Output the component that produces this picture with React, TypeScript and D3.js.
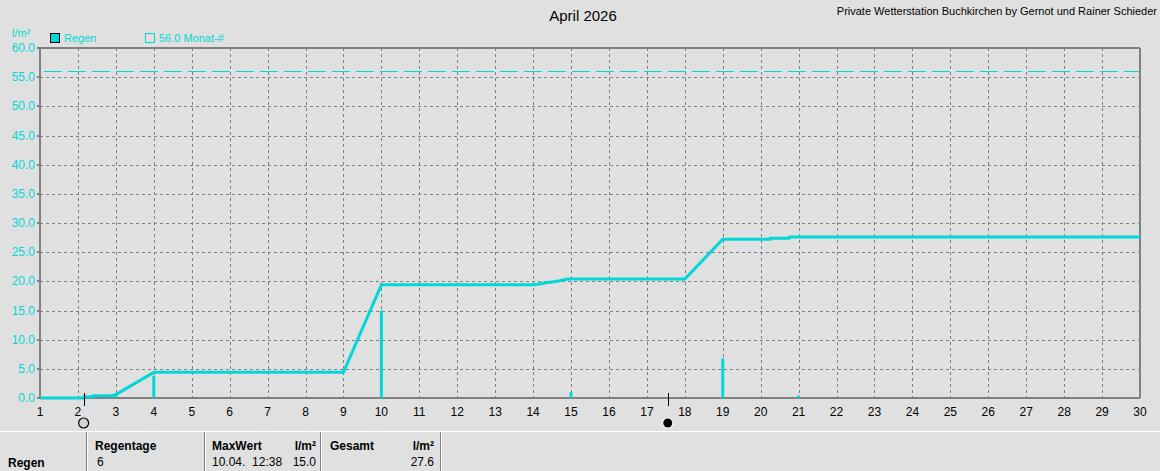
import React from "react";
import * as d3 from "d3";

const W = 1160;
const H = 471;

const title = "April 2026";
const header = "Private Wetterstation Buchkirchen by Gernot und Rainer Schieder";
const yUnit = "l/m²";
const legendRain = "Regen";
const legendAvg = "56.0 Monat-#";
const monthAvg = 56.0;

const days = d3.range(1, 31);
const yTicks = d3.range(0, 61, 5);

// daily rain bars
const barDays = [3, 4, 10, 15, 19, 21];
const barValues = [0.6, 3.8, 15.0, 1.0, 6.8, 0.4];

// cumulative rain line (day, mm)
const cumDays = [1, 2.15, 2.16, 2.4, 2.41, 2.9, 3.0, 4.0, 9.0, 10.0, 14.05, 14.3, 14.5, 14.7, 14.9, 18.0, 19.0, 20.25, 20.26, 20.75, 20.76, 30];
const cumValues = [0, 0, 0.2, 0.2, 0.4, 0.4, 0.6, 4.4, 4.4, 19.4, 19.4, 19.7, 19.9, 20.1, 20.4, 20.4, 27.2, 27.2, 27.4, 27.4, 27.6, 27.6];

// moon phases
const fullMoonDay = 2.15;
const newMoonDay = 17.55;

// table
const tableRowLabel = "Regen";
const tableHeaders = ["Regentage", "MaxWert", "Gesamt"];
const rainDaysCount = "6";
const maxWertDate = "10.04.  12:38";
const maxWertValue = "15.0";
const gesamtValue = "27.6";

const CYAN = "#00d7d7";
const GRID = "#808080";
const FONT = "'Liberation Sans', Arial, sans-serif";

export default function App() {
  const x = d3.scaleLinear().domain([1, 30]).range([40, 1140]);
  const y = d3.scaleLinear().domain([0, 60]).range([398, 48]);
  const line = d3
    .line<number>()
    .x((_, i) => x(cumDays[i]))
    .y((d) => y(d));
  const colX = [0, 87, 205, 321, 441];
  const cr = (v: number) => Math.round(v) + 0.5;

  return (
    <svg
      width={W}
      height={H}
      style={{ position: "absolute", left: 0, top: 0, background: "#e0e0e0", fontFamily: FONT }}
    >
      <rect x={0} y={0} width={W} height={H} fill="#e0e0e0" />
      {/* header */}
      <text x={583} y={21} textAnchor="middle" fontSize={15} fill="#000">{title}</text>
      <text x={1157} y={15} textAnchor="end" fontSize={11} fill="#000">{header}</text>

      {/* y unit & legend */}
      <text x={12} y={37} fontSize={11} fill={CYAN}>{yUnit}</text>
      <rect x={50.5} y={33.5} width={9} height={9} fill={CYAN} stroke="#000" strokeWidth={1} />
      <text x={64} y={42} fontSize={11} fill={CYAN}>{legendRain}</text>
      <rect x={145.5} y={33.5} width={9} height={9} fill="none" stroke={CYAN} strokeWidth={1} />
      <text x={159} y={42} fontSize={11} fill={CYAN}>{legendAvg}</text>

      {/* grid */}
      {yTicks.filter((t) => t > 0 && t < 60).map((t) => (
        <line key={"gy" + t} x1={x(1)} x2={x(30)} y1={cr(y(t))} y2={cr(y(t))} stroke={GRID} strokeDasharray="3,3" shapeRendering="crispEdges" />
      ))}
      {days.filter((d) => d > 1 && d < 30).map((d) => (
        <line key={"gx" + d} x1={cr(x(d))} x2={cr(x(d))} y1={y(60)} y2={y(0)} stroke={GRID} strokeDasharray="3,3" shapeRendering="crispEdges" />
      ))}

      {/* monthly average */}
      <line x1={x(1)} x2={x(30)} y1={cr(y(monthAvg))} y2={cr(y(monthAvg))} stroke={CYAN} strokeWidth={1} strokeDasharray="18,6" strokeDashoffset={-4} shapeRendering="crispEdges" />

      {/* frame */}
      <line x1={x(1)} x2={x(30)} y1={y(60)} y2={y(60)} stroke={GRID} strokeWidth={2} />
      <line x1={x(30)} x2={x(30)} y1={y(60)} y2={y(0)} stroke={GRID} strokeWidth={2} />
      <line x1={x(1)} x2={x(1)} y1={y(60)} y2={y(0) + 1} stroke={GRID} strokeWidth={2} />
      <line x1={x(1)} x2={x(30)} y1={y(0)} y2={y(0)} stroke={GRID} strokeWidth={2} />

      {/* y ticks */}
      {yTicks.map((t) => (
        <g key={"yt" + t}>
          <line x1={x(1) - 3} x2={x(1)} y1={Math.round(y(t))} y2={Math.round(y(t))} stroke={GRID} strokeWidth={2} />
          <text x={35} y={y(t) + 4} textAnchor="end" fontSize={12} fill={CYAN}>{t.toFixed(1)}</text>
        </g>
      ))}
      {/* x ticks */}
      {days.map((d) => (
        <text key={"xt" + d} x={x(d)} y={416} textAnchor="middle" fontSize={12} fill="#000">{d}</text>
      ))}

      {/* bars */}
      {barDays.map((d, i) => (
        <rect key={"b" + d} x={x(d) - 1.5} width={3} y={y(barValues[i])} height={y(0) - y(barValues[i])} fill={CYAN} />
      ))}

      {/* cumulative */}
      <path d={line(cumValues) || ""} fill="none" stroke={CYAN} strokeWidth={3} strokeLinejoin="miter" />

      {/* moon phases */}
      <line x1={cr(x(fullMoonDay))} x2={cr(x(fullMoonDay))} y1={393} y2={406} stroke="#000" strokeWidth={1} />
      <circle cx={x(fullMoonDay)} cy={423} r={5} fill="#d4d4d4" stroke="#000" strokeWidth={1.2} />
      <line x1={cr(x(newMoonDay))} x2={cr(x(newMoonDay))} y1={393} y2={406} stroke="#000" strokeWidth={1} />
      <circle cx={x(newMoonDay)} cy={423} r={5.5} fill="#fff" />
      <circle cx={x(newMoonDay)} cy={423} r={4.5} fill="#000" />

      {/* table */}
      <line x1={0} x2={W} y1={431.5} y2={431.5} stroke="#fff" strokeWidth={1} />
      {colX.slice(1).map((cx) => (
        <g key={"c" + cx}>
          <line x1={cx - 0.5} x2={cx - 0.5} y1={432} y2={H} stroke={GRID} strokeWidth={1} />
          <line x1={cx + 0.5} x2={cx + 0.5} y1={432} y2={H} stroke="#fff" strokeWidth={1} />
        </g>
      ))}
      <text x={8} y={467} fontSize={12} fontWeight="bold" fill="#000">{tableRowLabel}</text>
      <text x={95} y={450} fontSize={12} fontWeight="bold" fill="#000">{tableHeaders[0]}</text>
      <text x={97} y={466} fontSize={12} fill="#000">{rainDaysCount}</text>
      <text x={212} y={450} fontSize={12} fontWeight="bold" fill="#000">{tableHeaders[1]}</text>
      <text x={316} y={450} textAnchor="end" fontSize={12} fontWeight="bold" fill="#000">{yUnit}</text>
      <text x={212} y={466} fontSize={12} fill="#000" style={{ whiteSpace: "pre" }}>{maxWertDate}</text>
      <text x={316} y={466} textAnchor="end" fontSize={12} fill="#000">{maxWertValue}</text>
      <text x={330} y={450} fontSize={12} fontWeight="bold" fill="#000">{tableHeaders[2]}</text>
      <text x={434} y={450} textAnchor="end" fontSize={12} fontWeight="bold" fill="#000">{yUnit}</text>
      <text x={434} y={466} textAnchor="end" fontSize={12} fill="#000">{gesamtValue}</text>
    </svg>
  );
}
